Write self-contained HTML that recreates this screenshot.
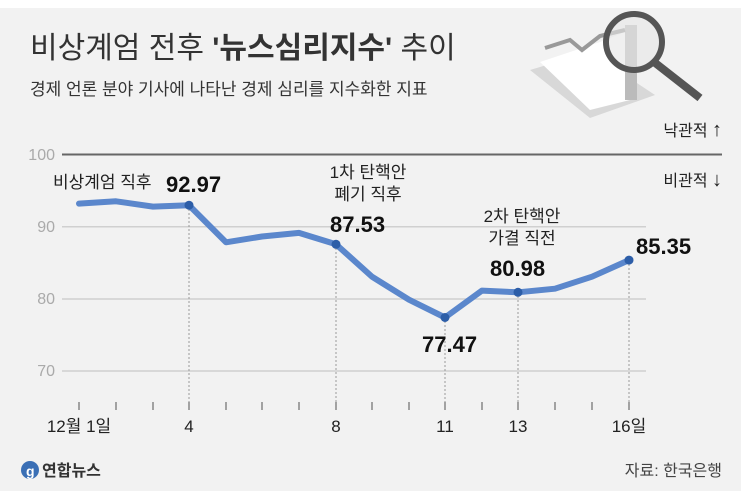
<!DOCTYPE html><html><head><meta charset="utf-8"><style>
body{margin:0;width:741px;height:486px;overflow:hidden;background:#f2f2f2;font-family:"Liberation Sans","Noto Sans CJK KR",sans-serif}
</style></head><body>
<svg width="741" height="486" xmlns="http://www.w3.org/2000/svg" font-family="Liberation Sans, Noto Sans CJK KR, sans-serif">
<rect width="741" height="486" fill="#f2f2f2"/>
<rect width="741" height="8" fill="#fff"/>
<text x="30" y="58" font-size="30" fill="#333">비상계엄 전후 <tspan font-weight="bold">'뉴스심리지수'</tspan> 추이</text>
<text x="30" y="95" font-size="17" fill="#333">경제 언론 분야 기사에 나타난 경제 심리를 지수화한 지표</text>
<g>
<polygon points="530,70 590,52 655,95 590,118" fill="#d8d8d8"/>
<polygon points="540,62 600,42 630,30 630,100 590,110" fill="#fff"/>
<rect x="625" y="25" width="12" height="75" fill="#bbb"/>
<polyline points="545,48 570,40 582,50 600,36 625,30" fill="none" stroke="#999" stroke-width="4"/>
<circle cx="634" cy="42" r="28" fill="rgba(230,230,230,0.6)" stroke="#555" stroke-width="6"/>
<line x1="654" y1="62" x2="700" y2="98" stroke="#555" stroke-width="8"/>
</g>
<text x="722" y="136" font-size="16" fill="#222" text-anchor="end">낙관적 <tspan font-size="20">↑</tspan></text>
<text x="722" y="186" font-size="16" fill="#222" text-anchor="end">비관적 <tspan font-size="20">↓</tspan></text>
<line x1="62" y1="154.5" x2="722" y2="154.5" stroke="#666" stroke-width="2"/>
<g stroke="#d0d0d0" stroke-width="1.5"><line x1="62" y1="226.7" x2="646" y2="226.7"/><line x1="62" y1="299" x2="646" y2="299"/><line x1="62" y1="371" x2="646" y2="371"/></g>
<g font-size="16" fill="#aaa" text-anchor="end"><text x="55" y="160">100</text><text x="55" y="232">90</text><text x="55" y="304">80</text><text x="55" y="376">70</text></g>
<g stroke="#999" stroke-dasharray="2,2" stroke-width="1"><line x1="189" y1="205" x2="189" y2="405"/><line x1="336" y1="244" x2="336" y2="405"/><line x1="445" y1="317" x2="445" y2="405"/><line x1="518" y1="292" x2="518" y2="405"/><line x1="629" y1="260" x2="629" y2="405"/></g>
<g stroke="#888" stroke-width="1.5">
<line x1="79" y1="402" x2="79" y2="410"/><line x1="116" y1="402" x2="116" y2="410"/><line x1="153" y1="402" x2="153" y2="410"/><line x1="189" y1="402" x2="189" y2="410"/><line x1="226" y1="402" x2="226" y2="410"/><line x1="262" y1="402" x2="262" y2="410"/><line x1="299" y1="402" x2="299" y2="410"/><line x1="336" y1="402" x2="336" y2="410"/><line x1="372" y1="402" x2="372" y2="410"/><line x1="409" y1="402" x2="409" y2="410"/><line x1="445" y1="402" x2="445" y2="410"/><line x1="482" y1="402" x2="482" y2="410"/><line x1="518" y1="402" x2="518" y2="410"/><line x1="555" y1="402" x2="555" y2="410"/><line x1="592" y1="402" x2="592" y2="410"/><line x1="629" y1="402" x2="629" y2="410"/></g>
<g font-size="17" fill="#222" text-anchor="middle"><text x="79" y="432">12월 1일</text><text x="189" y="432">4</text><text x="336" y="432">8</text><text x="445" y="432">11</text><text x="518" y="432">13</text><text x="629" y="432">16일</text></g>
<polyline points="79,203.6 116,201.3 153,206.6 189,205.2 226,242.3 262,236.5 299,232.9 336,244.3 372,276.7 409,299.7 445,317.5 482,290.6 518,292.3 555,288.7 592,276.7 629,260.1" fill="none" stroke="#5b87cc" stroke-width="6" stroke-linejoin="round" stroke-linecap="round"/>
<g fill="#2d5ea8"><circle cx="189" cy="205.2" r="4.5"/><circle cx="336" cy="244.3" r="4.5"/><circle cx="445" cy="317.5" r="4.5"/><circle cx="518" cy="292.3" r="4.5"/><circle cx="629" cy="260.1" r="4.5"/></g>
<g font-size="17" fill="#222"><text x="53" y="188">비상계엄 직후</text>
<text x="368" y="178" text-anchor="middle">1차 탄핵안</text><text x="368" y="200" text-anchor="middle">폐기 직후</text>
<text x="522" y="222" text-anchor="middle">2차 탄핵안</text><text x="522" y="244" text-anchor="middle">가결 직전</text></g>
<g font-size="22" font-weight="bold" fill="#111"><text x="166" y="192">92.97</text><text x="330" y="232">87.53</text><text x="422" y="352">77.47</text><text x="490" y="276">80.98</text><text x="636" y="254">85.35</text></g>
<circle cx="30" cy="470" r="9" fill="#3a6fb5"/><text x="26" y="476" font-size="14" fill="#fff" font-weight="bold">g</text>
<text x="42" y="476" font-size="16" font-weight="bold" fill="#333">연합뉴스</text>
<text x="722" y="476" font-size="16" fill="#444" text-anchor="end">자료: 한국은행</text>
</svg></body></html>
